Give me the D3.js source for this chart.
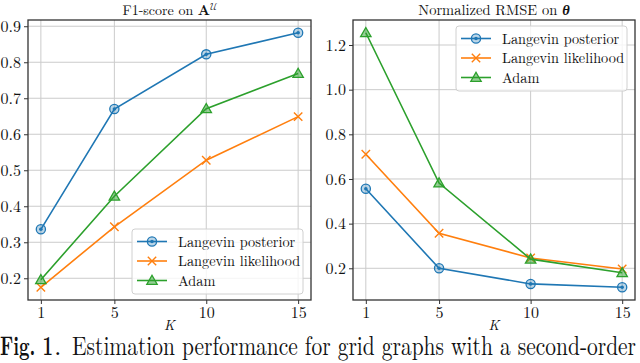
<!DOCTYPE html>
<html lang="en">
<head>
<meta charset="UTF-8">
<script src="https://cdn.jsdelivr.net/npm/d3@7"></script>
<style>
  body { margin: 0; background: #fff; }
  svg text { font-family: "Latin Modern Roman", "Liberation Serif", serif; fill: #111; }
</style>
</head>
<body>
<script>
    const kValues = [1, 5, 10, 15];
    const seriesNames = ["Langevin posterior", "Langevin likelihood", "Adam"];
    const f1Posterior = [0.336, 0.670, 0.822, 0.882];
    const f1Likelihood = [0.175, 0.343, 0.528, 0.649];
    const f1Adam = [0.196, 0.428, 0.671, 0.769];
    const rmsePosterior = [0.556, 0.200, 0.130, 0.115];
    const rmseLikelihood = [0.711, 0.357, 0.246, 0.197];
    const rmseAdam = [1.255, 0.582, 0.241, 0.180];
    const xTicks = [1, 5, 10, 15];
    const f1Ticks = [0.2, 0.3, 0.4, 0.5, 0.6, 0.7, 0.8, 0.9];
    const rmseTicks = [0.2, 0.4, 0.6, 0.8, 1.0, 1.2];
    const colors = ["#1f77b4", "#ff7f0e", "#2ca02c"];
    const markers = ["circle", "cross", "triangle"];

    const w = 640, h = 363;
    const font = "Latin Modern Roman";
    const svg = d3.select("body").append("svg").attr("width", w).attr("height", h);

    // matplotlib style 5% margins around data
    function padded(vals) {
        const lo = d3.min(vals), hi = d3.max(vals), m = (hi - lo) * 0.05;
        return [lo - m, hi + m];
    }

    function drawMarker(g, type, color, x, y) {
        if (type === "circle") {
            g.append("circle").attr("cx", x).attr("cy", y).attr("r", 4.6)
                .attr("fill", color).attr("fill-opacity", 0.3).attr("stroke", color).attr("stroke-width", 1.3);
            g.append("circle").attr("cx", x).attr("cy", y).attr("r", 1.8).attr("fill", color);
        } else if (type === "cross") {
            const s = 4.2;
            g.append("path").attr("d", `M${x - s},${y - s}L${x + s},${y + s}M${x - s},${y + s}L${x + s},${y - s}`)
                .attr("stroke", color).attr("stroke-width", 1.4);
        } else {
            const s = 5.2;
            g.append("path").attr("d", `M${x},${y - s}L${x + s},${y + s * 0.75}L${x - s},${y + s * 0.75}Z`)
                .attr("fill", color).attr("fill-opacity", 0.5).attr("stroke", color).attr("stroke-width", 1.3);
        }
    }

    function panel(opts) {
        const { left, right, top, bottom, series, yTicks, legend } = opts;
        const x = d3.scaleLinear().domain(padded(kValues)).range([left, right]);
        const y = d3.scaleLinear().domain(padded(series.flat())).range([bottom, top]);
        const g = svg.append("g");

        // grid
        g.append("g").selectAll("line").data(xTicks).join("line")
            .attr("x1", d => x(d)).attr("x2", d => x(d)).attr("y1", top).attr("y2", bottom)
            .attr("stroke", "#cbcbcb").attr("stroke-width", 1);
        g.append("g").selectAll("line").data(yTicks).join("line")
            .attr("y1", d => y(d)).attr("y2", d => y(d)).attr("x1", left).attr("x2", right)
            .attr("stroke", "#cbcbcb").attr("stroke-width", 1);

        // axes
        const xAxis = g.append("g").attr("transform", `translate(0,${bottom})`)
            .call(d3.axisBottom(x).tickValues(xTicks).tickSize(4).tickPadding(3).tickFormat(d3.format("d")));
        const yAxis = g.append("g").attr("transform", `translate(${left},0)`)
            .call(d3.axisLeft(y).tickValues(yTicks).tickSize(4).tickPadding(3).tickFormat(d3.format(".1f")));
        [xAxis, yAxis].forEach(a => {
            a.attr("font-family", font).attr("font-size", 16);
            a.select(".domain").remove();
            a.selectAll("line").attr("stroke", "#333");
            a.selectAll("text").attr("fill", "#111");
        });

        g.append("rect").attr("x", left).attr("y", top).attr("width", right - left).attr("height", bottom - top)
            .attr("fill", "none").attr("stroke", "#333").attr("stroke-width", 1.3);

        // lines + markers
        const line = d3.line().x((d, i) => x(kValues[i])).y(d => y(d));
        series.forEach((vals, s) => {
            g.append("path").datum(vals).attr("d", line).attr("fill", "none")
                .attr("stroke", colors[s]).attr("stroke-width", 1.6);
            vals.forEach((v, i) => drawMarker(g, markers[s], colors[s], x(kValues[i]), y(v)));
        });

        // x label
        g.append("text").attr("x", (left + right) / 2).attr("y", 330).attr("text-anchor", "middle")
            .attr("font-style", "italic").attr("font-size", 14).text("K");

        // legend
        const lg = g.append("g");
        lg.append("rect").attr("x", legend.x).attr("y", legend.y).attr("width", 171).attr("height", 65)
            .attr("rx", 3).attr("fill", "#fff").attr("fill-opacity", 0.8)
            .attr("stroke", "#d0d0d0").attr("stroke-width", 1);
        seriesNames.forEach((name, s) => {
            const ly = legend.y + 12.5 + s * 19.5;
            lg.append("line").attr("x1", legend.x + 5).attr("x2", legend.x + 35).attr("y1", ly).attr("y2", ly)
                .attr("stroke", colors[s]).attr("stroke-width", 1.6);
            drawMarker(lg, markers[s], colors[s], legend.x + 20, ly);
            lg.append("text").attr("x", legend.x + 46).attr("y", ly + 5).attr("font-size", 14.3).text(name);
        });
    }

    panel({ left: 28, right: 311, top: 20, bottom: 300,
        series: [f1Posterior, f1Likelihood, f1Adam], yTicks: f1Ticks, legend: { x: 132, y: 229 } });
    panel({ left: 353, right: 635, top: 20, bottom: 300,
        series: [rmsePosterior, rmseLikelihood, rmseAdam], yTicks: rmseTicks, legend: { x: 456, y: 26 } });

    // titles
    const t1 = svg.append("text").attr("x", 170).attr("y", 15).attr("text-anchor", "middle").attr("font-size", 14);
    t1.append("tspan").text("F1-score on ");
    t1.append("tspan").attr("font-weight", "bold").text("A");
    t1.append("tspan").attr("font-family", "Latin Modern Math").attr("font-size", 10).attr("dy", -5).text("𝒰");
    const t2 = svg.append("text").attr("x", 494).attr("y", 15).attr("text-anchor", "middle").attr("font-size", 14.5);
    t2.append("tspan").text("Normalized RMSE on ");
    t2.append("tspan").attr("font-weight", "bold").attr("font-style", "italic").text("θ");

    // caption
    svg.append("text").attr("x", 0).attr("y", 355).attr("font-size", 27).attr("font-weight", "bold")
        .attr("textLength", 53).attr("lengthAdjust", "spacingAndGlyphs").text("Fig. 1");
    svg.append("text").attr("x", 54).attr("y", 355).attr("font-size", 27).text(".");
    svg.append("text").attr("x", 72).attr("y", 355).attr("font-size", 27)
        .attr("textLength", 564).attr("lengthAdjust", "spacingAndGlyphs")
        .text("Estimation performance for grid graphs with a second-order");
</script>
</body>
</html>
